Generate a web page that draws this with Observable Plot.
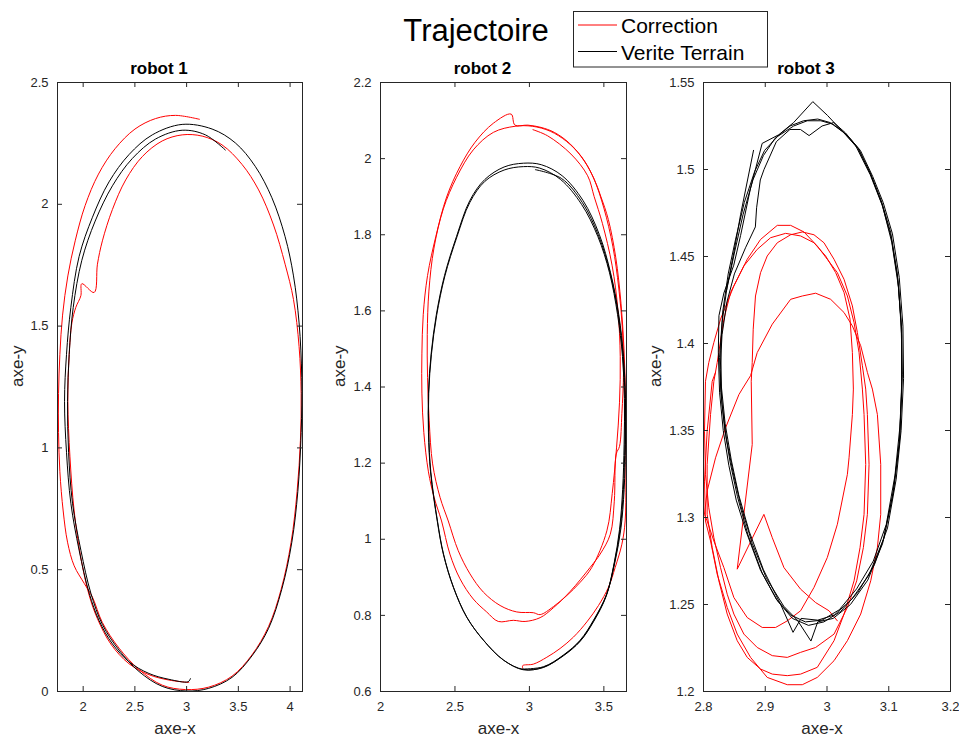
<!DOCTYPE html>
<html><head><meta charset="utf-8">
<script src="https://cdn.jsdelivr.net/npm/d3@7"></script>
<script src="https://cdn.jsdelivr.net/npm/@observablehq/plot@0.6"></script>
<style>
html,body{margin:0;padding:0;background:#fff;overflow:hidden;}
#chart{position:relative;width:959px;height:736px;font-family:"Liberation Sans",Arial,Helvetica,sans-serif;}
</style></head>
<body><div id="chart"></div>
<script>
// ---------- data ----------
const titleText = "Trajectoire";
const seriesNames = ["Correction", "Verite Terrain"];
const seriesColors = ["#ff0000", "#000000"];
const panelTitles = ["robot 1", "robot 2", "robot 3"];

const r1XTicks = [2, 2.5, 3, 3.5, 4];
const r1YTicks = [0, 0.5, 1, 1.5, 2, 2.5];
const r2XTicks = [2, 2.5, 3, 3.5];
const r2YTicks = [0.6, 0.8, 1, 1.2, 1.4, 1.6, 1.8, 2, 2.2];
const r3XTicks = [2.8, 2.9, 3, 3.1, 3.2];
const r3YTicks = [1.2, 1.25, 1.3, 1.35, 1.4, 1.45, 1.5, 1.55];

const r1XDomain = [1.752, 4.12], r1YDomain = [0, 2.5];
const r2XDomain = [2, 3.652], r2YDomain = [0.6, 2.2];
const r3XDomain = [2.8, 3.2], r3YDomain = [1.2, 1.55];

const r1Correction = [
[3.021,0.037],[2.829,0.047],[2.636,0.069],[2.443,0.114],[2.267,0.195],[2.138,0.299],[2.058,0.395],[1.978,0.548],[1.913,0.741],[1.872,0.966],
[1.852,1.191],[1.865,1.384],[1.891,1.513],[1.929,1.577],[1.978,1.625],[1.987,1.674],[2.106,1.638],[2.138,1.754],[2.186,1.850],[2.283,1.979],
[2.411,2.100],[2.572,2.196],[2.764,2.260],[2.957,2.285],[3.150,2.280],[3.342,2.244],[3.535,2.164],[3.696,2.059],[3.840,1.915],[3.952,1.754],
[4.033,1.609],[4.087,1.416],[4.107,1.223],[4.100,1.031],[4.068,0.822],[4.010,0.613],[3.914,0.420],[3.792,0.267],[3.631,0.150],[3.439,0.063],
[3.214,0.018],[2.989,0.008],[2.764,0.026],[2.540,0.090],[2.347,0.178],[2.186,0.283],[2.090,0.387],[2.010,0.444],[1.913,0.516],[1.849,0.613],
[1.807,0.741],[1.775,0.902],[1.762,1.063],[1.762,1.223],[1.775,1.384],[1.801,1.545],[1.852,1.706],[1.923,1.850],[2.019,1.995],[2.148,2.124],
[2.308,2.228],[2.501,2.309],[2.700,2.352],[2.893,2.365],[3.124,2.349]
];
const r1Truth = [
[3.037,0.053],[3.015,0.040],[2.829,0.050],[2.636,0.074],[2.443,0.122],[2.283,0.195],[2.154,0.291],[2.058,0.404],[1.961,0.580],[1.881,0.773],
[1.839,0.982],[1.820,1.191],[1.839,1.384],[1.881,1.577],[1.961,1.786],[2.090,1.947],[2.250,2.092],[2.443,2.204],[2.668,2.285],[2.957,2.328],
[3.246,2.309],[3.471,2.252],[3.663,2.156],[3.824,2.027],[3.952,1.867],[4.033,1.706],[4.087,1.513],[4.113,1.288],[4.107,1.063],[4.075,0.822],
[4.017,0.613],[3.920,0.420],[3.792,0.259],[3.631,0.146],[3.439,0.058],[3.214,0.013],[2.999,0.002],[2.764,0.021],[2.540,0.082],[2.347,0.170],
[2.186,0.275],[2.074,0.404],[1.978,0.580],[1.897,0.773],[1.859,0.982],[1.849,1.191],[1.865,1.384],[1.904,1.577],[1.987,1.770],[2.116,1.931],
[2.283,2.076],[2.475,2.188],[2.700,2.268],[2.957,2.304],[3.182,2.285],[3.374,2.223]
];

const r2Correction = [
[2.955,0.661],[2.955,0.668],[3.027,0.672],[3.117,0.690],[3.206,0.713],[3.296,0.743],[3.386,0.783],[3.464,0.826],[3.531,0.874],[3.576,0.926],
[3.621,0.987],[3.643,1.048],[3.648,1.15],[3.648,1.26],[3.645,1.38],[3.635,1.50],[3.615,1.62],[3.58,1.74],[3.53,1.84],[3.48,1.90],
[3.435,1.946],[3.368,1.994],[3.27,2.04],[3.167,2.069],[3.078,2.082],[2.989,2.088],[2.903,2.088],[2.877,2.117],
[2.758,2.093],[2.635,2.043],[2.534,1.979],[2.444,1.899],[2.372,1.796],[2.316,1.693],[2.287,1.590],[2.278,1.487],[2.278,1.384],[2.291,1.280],
[2.322,1.177],[2.36,1.11],[2.410,1.048],[2.466,0.961],[2.534,0.896],[2.623,0.843],[2.713,0.809],[2.791,0.784],[2.892,0.787],[2.971,0.784],
[3.072,0.794],[3.161,0.820],[3.274,0.863],[3.408,0.926],[3.475,0.961],[3.543,1.013],
[3.570,1.10],[3.583,1.224],[3.605,1.244],[3.621,1.33],[3.632,1.44],[3.625,1.55],[3.60,1.66],[3.56,1.77],[3.50,1.87],[3.43,1.95],
[3.35,2.005],[3.25,2.045],[3.14,2.072],[3.02,2.085],[2.904,2.085],
[2.758,2.069],[2.623,2.023],[2.511,1.951],[2.422,1.868],[2.359,1.765],[2.325,1.652],[2.314,1.538],[2.316,1.425],[2.327,1.311],[2.350,1.198],
[2.40,1.11],[2.455,1.048],[2.522,0.970],[2.601,0.909],[2.691,0.861],[2.803,0.826],[2.915,0.809],[3.027,0.807],[3.072,0.802],[3.161,0.823],
[3.251,0.852],[3.341,0.887],[3.419,0.926],[3.520,1.022],
[3.556,1.12],[3.585,1.24],[3.605,1.36],[3.61,1.48],[3.595,1.60],[3.555,1.72],[3.49,1.83],[3.435,1.90],[3.391,1.955],[3.279,2.012],
[3.122,2.06],[3.024,2.076]
];
const r2Truth = [
[2.955,0.659],[3.094,0.665],[3.229,0.696],[3.341,0.735],[3.430,0.787],[3.520,0.857],[3.576,0.943],[3.615,1.030],[3.636,1.13],[3.645,1.25],
[3.645,1.37],[3.632,1.48],[3.60,1.59],[3.545,1.70],[3.47,1.80],[3.36,1.89],[3.22,1.955],[3.08,1.984],[2.96,1.988],[2.83,1.978],
[2.70,1.945],[2.60,1.89],[2.511,1.796],[2.43,1.693],[2.375,1.59],[2.34,1.487],[2.322,1.384],[2.322,1.28],[2.336,1.177],[2.381,1.048],
[2.422,0.961],[2.489,0.874],[2.578,0.796],[2.691,0.735],[2.825,0.683],[2.960,0.657],
[3.094,0.664],[3.229,0.694],[3.341,0.732],[3.430,0.783],[3.515,0.850],[3.568,0.935],[3.605,1.025],[3.626,1.13],[3.636,1.25],[3.638,1.37],
[3.625,1.48],[3.592,1.59],[3.538,1.70],[3.46,1.795],[3.35,1.88],[3.21,1.945],[3.07,1.975],[2.96,1.979],[2.83,1.970],[2.70,1.940],
[2.60,1.885],[2.513,1.794],[2.432,1.691],[2.377,1.588],[2.342,1.486],[2.324,1.383],[2.324,1.279],[2.338,1.176],[2.383,1.047],[2.424,0.960],
[2.491,0.873],[2.580,0.795],[2.693,0.734],[2.827,0.682],[2.960,0.658],
[3.094,0.663],[3.229,0.695],[3.341,0.733],[3.43,0.785],[3.517,0.853],[3.572,0.94],[3.61,1.028],[3.631,1.13],[3.641,1.25],[3.642,1.37],
[3.629,1.48],[3.597,1.59],[3.542,1.70],[3.465,1.797],[3.355,1.885],[3.215,1.948],[3.04,1.971]
];

const r3Correction = [
[3.0168,1.2406],[3.0032,1.2464],[2.9816,1.2511],[2.9573,1.2588],[2.9303,1.2712],[2.9114,1.2884],[2.8978,1.3018],[2.8546,1.2703],[2.8789,1.3420],[2.8773,1.3783],
[2.8789,1.3891],[2.8805,1.4082],[2.8842,1.4273],[2.8924,1.4407],[2.9032,1.4503],[2.9195,1.4579],[2.9411,1.4625],[2.9600,1.4641],[2.9789,1.4625],[2.9951,1.4579],
[3.0114,1.4484],[3.0276,1.4369],[3.0411,1.4216],[3.0492,1.4063],[3.0573,1.3872],[3.0627,1.3738],[3.0654,1.3592],[3.0681,1.3305],[3.0654,1.3018],[3.0589,1.2827],
[3.0481,1.2636],[3.0330,1.2483],[3.0114,1.2330],[2.9816,1.2253],[2.9573,1.2225],[2.9357,1.2196],[2.9114,1.2206],[2.8870,1.2253],[2.8654,1.2330],[2.8492,1.2445],
[2.8384,1.2559],[2.8276,1.2712],[2.8168,1.2884],[2.8086,1.3056],[2.8032,1.3248],[2.8016,1.3496],[2.8032,1.3783],[2.8086,1.3891],[2.8168,1.4006],[2.8276,1.4140],
[2.8492,1.4331],[2.8708,1.4484],[2.8924,1.4598],[2.9195,1.4679],[2.9411,1.4679],[2.9627,1.4641],[2.9843,1.4560],[3.0005,1.4484],[3.0168,1.4407],[3.0330,1.4273],
[3.0438,1.4120],[3.0519,1.3948],[3.0573,1.3738],[3.0600,1.3592],[3.0627,1.3305],[3.0600,1.3018],[3.0535,1.2827],[3.0438,1.2636],[3.0276,1.2445],[3.0114,1.2292],
[2.9843,1.2139],[2.9573,1.2100],[2.9357,1.2091],[2.9114,1.2100],[2.8924,1.2129],[2.8708,1.2196],[2.8546,1.2292],[2.8384,1.2445],[2.8249,1.2636],[2.8141,1.2827],
[2.8059,1.3018],[2.8059,1.3305],[2.8114,1.3592],[2.8168,1.3783],[2.8222,1.3891],[2.8330,1.4140],[2.8438,1.4293],[2.8654,1.4446],[2.8870,1.4541],[2.9086,1.4608],
[2.9330,1.4633],[2.9573,1.4618],[2.9789,1.4579],[2.9978,1.4503],[3.0141,1.4407],[3.0276,1.4293],[3.0373,1.4140],[3.0411,1.3948],[3.0427,1.3738],[3.0411,1.3592],
[3.0357,1.3343],[3.0330,1.3248],[3.0168,1.2961],[3.0005,1.2770],[2.9789,1.2598],[2.9573,1.2464],[2.9357,1.2406],[2.9168,1.2368],[2.8951,1.2368],[2.8708,1.2425],
[2.8492,1.2540],[2.8330,1.2712],[2.8168,1.2865],[2.8059,1.2980],[2.8016,1.3018],
[2.8059,1.3152],[2.8195,1.3343],[2.8357,1.3515],[2.8573,1.3706],[2.8627,1.3738],[2.8762,1.3815],[2.8870,1.3948],[2.9114,1.4111],[2.9411,1.4254],[2.9600,1.4273],
[2.9816,1.4289],[3.0059,1.4254],[3.0276,1.4178],[3.0411,1.4101],[3.0546,1.3987],[3.0654,1.3834],[3.0735,1.3738],[3.0816,1.3592],[3.0870,1.3305],[3.0870,1.3018],
[3.0816,1.2827],[3.0708,1.2636],[3.0546,1.2445],[3.0330,1.2292],[3.0114,1.2177],[2.9843,1.2081],[2.9600,1.2039],[2.9357,1.2039],[2.9032,1.2081],[2.8762,1.2196],
[2.8546,1.2330],[2.8384,1.2483],[2.8222,1.2674],[2.8114,1.2865],[2.8032,1.2980],[2.8016,1.3209],[2.8059,1.3496],[2.8141,1.3783],[2.8195,1.3834]
];
const r3Truth = [
[2.881,1.511],[2.860,1.474],[2.849,1.452],[2.838,1.432],[2.830,1.412],[2.826,1.392],[2.828,1.372],[2.834,1.352],[2.843,1.332],[2.855,1.312],
[2.872,1.290],[2.895,1.268],[2.920,1.252],[2.944,1.242],[2.970,1.238],[2.995,1.240],[3.022,1.246],[3.050,1.257],[3.077,1.273],[3.098,1.294],
[3.112,1.322],[3.120,1.350],[3.124,1.380],[3.123,1.410],[3.117,1.438],[3.106,1.463],[3.091,1.481],[3.074,1.496],[3.054,1.511],[3.032,1.520],
[3.010,1.526],[2.990,1.528],[2.968,1.528],[2.946,1.525],[2.920,1.519],[2.899,1.511],[2.883,1.499],[2.866,1.481],
[2.852,1.460],[2.840,1.440],[2.831,1.418],[2.828,1.396],[2.829,1.375],[2.835,1.354],[2.845,1.333],[2.857,1.313],[2.874,1.292],[2.897,1.270],
[2.925,1.250],[2.945,1.234],[2.958,1.242],[2.985,1.241],[3.012,1.244],[3.040,1.253],[3.068,1.267],[3.092,1.288],[3.108,1.316],[3.118,1.346],
[3.121,1.378],[3.121,1.408],[3.115,1.436],[3.104,1.461],[3.089,1.480],[3.071,1.497],[3.051,1.512],[3.030,1.521],[3.011,1.527],[2.992,1.525],
[2.971,1.5195],[2.957,1.523],[2.940,1.523],[2.918,1.516],[2.898,1.500],[2.892,1.494],[2.886,1.478],[2.884,1.467],[2.868,1.455],
[2.850,1.440],[2.838,1.424],[2.830,1.405],[2.827,1.385],[2.830,1.365],[2.837,1.345],[2.848,1.326],[2.861,1.306],[2.879,1.285],[2.902,1.265],
[2.930,1.249],[2.952,1.241],[2.974,1.229],[2.985,1.240],[3.010,1.242],[3.038,1.250],[3.066,1.264],[3.090,1.285],[3.106,1.312],[3.117,1.342],
[3.121,1.372],[3.121,1.404],[3.116,1.432],[3.105,1.458],[3.090,1.479],[3.070,1.497],[3.046,1.514],[3.022,1.523],[3.001,1.531],[2.977,1.539],
[2.946,1.527],[2.922,1.520],[2.895,1.515],[2.876,1.489],[2.860,1.462],[2.849,1.445],[2.833,1.429],[2.825,1.416],
[2.824,1.395],[2.826,1.372],[2.832,1.350],[2.841,1.330],[2.853,1.310],[2.869,1.292],[2.892,1.270],[2.918,1.253],[2.941,1.244],[2.965,1.240],
[2.992,1.241],[3.020,1.247],[3.048,1.259],[3.075,1.275],[3.096,1.296],[3.110,1.324],[3.118,1.352],[3.122,1.382],[3.120,1.412],[3.114,1.440],
[3.103,1.464],[3.088,1.482],[3.070,1.498],[3.050,1.512],[3.028,1.521],[3.005,1.527],[2.985,1.529],[2.962,1.528],[2.940,1.525],[2.916,1.518],
[2.897,1.508],[2.880,1.494],[2.864,1.474],[2.850,1.452],[2.837,1.430]
];

// ---------- layout ----------
const chart = document.getElementById("chart");
const FONT = '"Liberation Sans", Arial, Helvetica, sans-serif';
const AX = "#262626";
const frameTop = 82, frameH = 609;
const mL = 55, mR = 12, mT = 40, mB = 45;
const fmt = d3.format("~g");

const panels = [
  {title: panelTitles[0], left: 57, w: 245, xd: r1XDomain, yd: r1YDomain, xt: r1XTicks, yt: r1YTicks, corr: r1Correction, truth: r1Truth, curve: "catmull-rom", ylab: -34.5},
  {title: panelTitles[1], left: 380, w: 246, xd: r2XDomain, yd: r2YDomain, xt: r2XTicks, yt: r2YTicks, corr: r2Correction, truth: r2Truth, curve: "catmull-rom", ylab: -35.5},
  {title: panelTitles[2], left: 703, w: 247, xd: r3XDomain, yd: r3YDomain, xt: r3XTicks, yt: r3YTicks, corr: r3Correction, truth: r3Truth, curve: "linear", ylab: -42.5}
];

for (const p of panels) {
  const W = p.w, H = frameH;
  const svg = Plot.plot({
    width: mL + W + mR, height: mT + H + mB,
    marginLeft: mL, marginRight: mR, marginTop: mT, marginBottom: mB,
    style: {background: "transparent", overflow: "visible", fontFamily: FONT, color: AX},
    x: {domain: p.xd}, y: {domain: p.yd},
    marks: [
      Plot.line(p.corr, {x: d => d[0], y: d => d[1], stroke: seriesColors[0], strokeWidth: 1, curve: p.curve}),
      Plot.line(p.truth, {x: d => d[0], y: d => d[1], stroke: seriesColors[1], strokeWidth: 1, curve: p.curve}),
      Plot.frame({stroke: AX, strokeWidth: 1}),
      Plot.tickX(p.xt, {x: d => d, insetTop: H - 5, stroke: AX}),
      Plot.tickX(p.xt, {x: d => d, insetBottom: H - 5, stroke: AX}),
      Plot.tickY(p.yt, {y: d => d, insetRight: W - 5, stroke: AX}),
      Plot.tickY(p.yt, {y: d => d, insetLeft: W - 5, stroke: AX}),
      Plot.axisX({ticks: p.xt, anchor: "bottom", tickSize: 0, tickPadding: 10, tickFormat: fmt, fontSize: 13, color: AX, label: null}),
      Plot.axisY({ticks: p.yt, anchor: "left", tickSize: 0, tickPadding: 9, tickFormat: fmt, fontSize: 13, color: AX, label: null}),
      Plot.text([p.title], {text: d => d, frameAnchor: "top", dy: -9, dx: -21, lineAnchor: "bottom", fontSize: 17, fontWeight: "bold", fill: "#000"}),
      Plot.text(["axe-x"], {text: d => d, frameAnchor: "bottom", dy: 42, dx: -5, lineAnchor: "bottom", fontSize: 17, fill: AX}),
      Plot.text(["axe-y"], {text: d => d, frameAnchor: "left", dx: p.ylab, rotate: -90, lineAnchor: "bottom", fontSize: 17, fill: AX})
    ]
  });
  svg.style.position = "absolute";
  svg.style.left = (p.left - mL) + "px";
  svg.style.top = (frameTop - mT) + "px";
  chart.appendChild(svg);
}

// title + legend
const ov = d3.create("svg").attr("width", 959).attr("height", 80)
  .style("position", "absolute").style("left", "0px").style("top", "0px").style("overflow", "visible")
  .style("font-family", FONT);
ov.append("text").attr("x", 476).attr("y", 41).attr("text-anchor", "middle").attr("font-size", 31).attr("fill", "#000").text(titleText);
const lg = ov.append("g");
lg.append("rect").attr("x", 573.5).attr("y", 11.5).attr("width", 194).attr("height", 55.5).attr("fill", "#fff").attr("stroke", AX);
seriesNames.forEach((name, i) => {
  const y = 25 + i * 26.5;
  lg.append("line").attr("x1", 578).attr("x2", 617).attr("y1", y).attr("y2", y).attr("stroke", seriesColors[i]).attr("stroke-width", 1);
  lg.append("text").attr("x", 621).attr("y", y + 8).attr("font-size", 21).attr("fill", "#000").text(name);
});
chart.appendChild(ov.node());
</script>
</body></html>
